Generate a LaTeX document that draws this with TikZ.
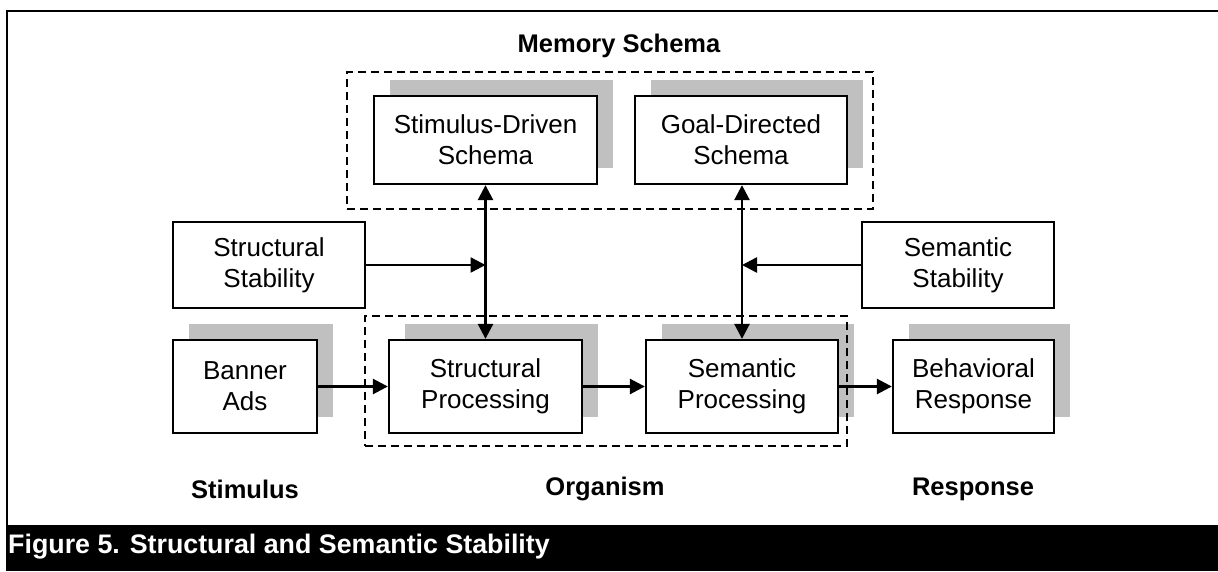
\documentclass[tikz,border=0pt]{standalone}
\usepackage{fontspec}
\setmainfont{Liberation Sans}
\usetikzlibrary{arrows.meta,shadows}
\definecolor{shadowgray}{RGB}{192,192,192}
\tikzset{
  box/.style={draw=black, line width=2.3pt, fill=white, align=center,
    inner sep=0pt, font=\fontsize{26}{31}\selectfont,
    drop shadow={shadow xshift=16pt, shadow yshift=16pt, fill=shadowgray, opacity=1}},
  plainbox/.style={draw=black, line width=2.3pt, fill=white, align=center,
    inner sep=0pt, font=\fontsize{26}{31}\selectfont},
  groupbox/.style={draw=black, line width=2pt, dash pattern=on 8pt off 5pt, inner sep=0pt},
  heading/.style={font=\fontsize{25.5}{30}\selectfont\bfseries, inner sep=0pt},
  flow/.style={line width=2.6pt, -{Triangle[length=15pt,width=15pt]}},
  bothflow/.style={line width=2.6pt, {Triangle[length=15pt,width=15pt]}-{Triangle[length=15pt,width=15pt]}}
}
\begin{document}
\begin{tikzpicture}[x=1pt,y=-1pt]
\useasboundingbox (0,0) rectangle (1218,571);
\fill[white] (0,0) rectangle (1218,571);

% frame and caption bar
\draw[line width=2.4pt] (7,525) -- (7,11) -- (1220,11);
\fill[black] (6,525) rectangle (1218,571);
\node[anchor=west, inner sep=0pt, text=white, font=\fontsize{26.8}{30}\selectfont\bfseries]
  (caption) at (8,547) {Figure 5. Structural and Semantic Stability};

% memory schemas
\node[box, minimum width=223pt, minimum height=88pt] (sds) at (485.5,140) {Stimulus-Driven\\Schema};
\node[box, minimum width=212pt, minimum height=88pt] (gds) at (741,140) {Goal-Directed\\Schema};

% stability factors
\node[plainbox, minimum width=192pt, minimum height=86pt] (sstab) at (269,265) {Structural\\Stability};
\node[plainbox, minimum width=192pt, minimum height=86pt] (mstab) at (958,265) {Semantic\\Stability};

% stimulus - organism - response chain
\node[box, minimum width=144pt, minimum height=93pt] (banner) at (245,386.5) {Banner\\Ads};
\node[box, minimum width=193pt, minimum height=93pt] (sproc) at (485.5,386.5) {Structural\\Processing};
\node[box, minimum width=192pt, minimum height=93pt] (mproc) at (742,386.5) {Semantic\\Processing};
\node[box, minimum width=161pt, minimum height=93pt] (beh) at (973.5,386.5) {Behavioral\\Response};

% grouping frames
\node[groupbox, minimum width=526pt, minimum height=137pt] (mem) at (610,140.5) {};
\node[groupbox, minimum width=482pt, minimum height=130pt] (org) at (606,381) {};

% headings
\node[heading] (memlabel) at (619,46) {Memory Schema};
\node[heading] (stimlabel) at (245,489) {Stimulus};
\node[heading] (orglabel) at (605,489) {Organism};
\node[heading] (resplabel) at (973,489) {Response};

% connectors
\draw[bothflow] (sds.south) -- (sproc.north);
\draw[bothflow] (gds.south -| mproc.north) -- (mproc.north);
\draw[flow] (sstab.east) -- (sstab.east -| sds.south);
\draw[flow] (mstab.west) -- (mstab.west -| mproc.north);
\draw[flow] (banner.east) -- (sproc.west);
\draw[flow] (sproc.east) -- (mproc.west);
\draw[flow] (mproc.east) -- (beh.west);
\end{tikzpicture}
\end{document}
